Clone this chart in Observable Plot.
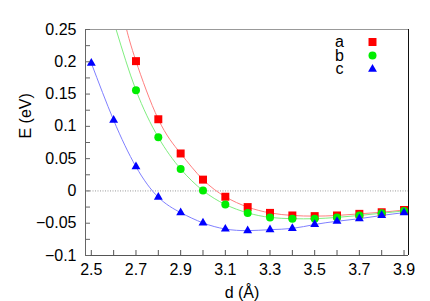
<!DOCTYPE html>
<html>
<head>
<meta charset="utf-8">
<script src="https://cdn.jsdelivr.net/npm/d3@7"></script>
<script src="https://cdn.jsdelivr.net/npm/@observablehq/plot@0.6"></script>
<style>
  html, body { margin: 0; padding: 0; background: #fff; }
  svg { display: block; }
</style>
</head>
<body>
<div id="chart"></div>
<script>
// Data
const series = ["a", "b", "c"];
const dA = [2.7, 2.8, 2.9, 3.0, 3.1, 3.2, 3.3, 3.4, 3.5, 3.6, 3.7, 3.8, 3.9];
const eA = [0.201, 0.111, 0.058, 0.0175, -0.009, -0.025, -0.034, -0.038, -0.039, -0.038, -0.0355, -0.033, -0.0295];
const dB = [2.7, 2.8, 2.9, 3.0, 3.1, 3.2, 3.3, 3.4, 3.5, 3.6, 3.7, 3.8, 3.9];
const eB = [0.156, 0.083, 0.034, 0.0005, -0.021, -0.034, -0.041, -0.043, -0.043, -0.041, -0.038, -0.0345, -0.031];
const dC = [2.5, 2.6, 2.7, 2.8, 2.9, 3.0, 3.1, 3.2, 3.3, 3.4, 3.5, 3.6, 3.7, 3.8, 3.9];
const eC = [0.198, 0.1095, 0.0375, -0.0098, -0.0336, -0.0495, -0.059, -0.0615, -0.060, -0.058, -0.052, -0.047, -0.043, -0.038, -0.0336];
// where the fitted curves of a and b leave the top of the frame
const fitHeadA = {d: 2.658, E: 0.25};
const fitHeadB = {d: 2.611, E: 0.25};

const xTicks = [2.5, 2.6, 2.7, 2.8, 2.9, 3.0, 3.1, 3.2, 3.3, 3.4, 3.5, 3.6, 3.7, 3.8, 3.9];
const xLabels = [2.5, 2.7, 2.9, 3.1, 3.3, 3.5, 3.7, 3.9];
const yTicks = [-0.1, -0.075, -0.05, -0.025, 0, 0.025, 0.05, 0.075, 0.1, 0.125, 0.15, 0.175, 0.2, 0.225, 0.25];
const yLabels = [-0.1, -0.05, 0, 0.05, 0.1, 0.15, 0.2, 0.25];
const xDomain = [2.474, 3.92];
const yDomain = [-0.1, 0.25];

const toRows = (ds, es, s) => ds.map((d, i) => ({d, E: es[i], s}));
const rowsA = toRows(dA, eA, "a");
const rowsB = toRows(dB, eB, "b");
const rowsC = toRows(dC, eC, "c");

const markerColor = {a: "#ff0000", b: "#00ee00", c: "#0000ff"};
const lineColor = {a: "#ff8080", b: "#80ee80", c: "#8080ff"};
const symbol = {a: "square", b: "circle", c: "triangle"};
const radius = {a: 4.5, b: 4, c: 3.3};

const fmt = v => {
  if (Math.abs(v) < 1e-9) return "0";
  const s = String(+Math.abs(v).toFixed(3));
  return (v < 0 ? "\u2212" : "") + s;
};

const W = 430, H = 301;
const mL = 85, mR = 22, mT = 29, mB = 46;
const plotW = W - mL - mR, plotH = H - mT - mB;

const legendMarks = series.flatMap((s, i) => [
  Plot.text([s], {text: d => d, frameAnchor: "top-right", dx: -69, dy: 12.5 + i * 13.6,
    textAnchor: "middle", lineAnchor: "middle", fontSize: 16, fill: "#000"}),
  Plot.dot([s], {frameAnchor: "top-right", dx: -36, dy: 12.5 + i * 13.6,
    symbol: symbol[s], r: radius[s], fill: markerColor[s], stroke: "none"})
]);

const chart = Plot.plot({
  width: W,
  height: H,
  marginLeft: mL,
  marginRight: mR,
  marginTop: mT,
  marginBottom: mB,
  style: {fontFamily: "'Liberation Sans', Arial, sans-serif", fontSize: "16px", background: "#fff", color: "#000"},
  x: {domain: xDomain, label: null},
  y: {domain: yDomain, label: null},
  marks: [
    Plot.ruleY([0], {stroke: "#999", strokeDasharray: "1,1.5", strokeWidth: 1}),
    Plot.line([fitHeadA, ...rowsA], {x: "d", y: "E", stroke: lineColor.a, strokeWidth: 1, curve: "natural", clip: true}),
    Plot.line([fitHeadB, ...rowsB], {x: "d", y: "E", stroke: lineColor.b, strokeWidth: 1, curve: "natural", clip: true}),
    Plot.line(rowsC, {x: "d", y: "E", stroke: lineColor.c, strokeWidth: 1, curve: "natural", clip: true}),
    ...[rowsA, rowsB, rowsC].map(rows => Plot.dot(rows, {x: "d", y: "E",
      symbol: d => symbol[d.s], r: radius[rows[0].s], fill: d => markerColor[d.s], stroke: "none"})),
    // frame
    Plot.ruleY([yDomain[1]], {stroke: "#999"}),
    Plot.ruleX([xDomain[0]], {stroke: "#666"}),
    Plot.ruleY([yDomain[0]], {stroke: "#555"}),
    Plot.ruleX([xDomain[1]], {stroke: "#111"}),
    // inward ticks
    Plot.tickY(yTicks, {y: d => d, stroke: "#666", insetRight: plotW - 5}),
    Plot.tickX(xTicks, {x: d => d, stroke: "#555", insetTop: plotH - 5}),
    Plot.axisY(yLabels, {tickSize: 0, tickPadding: 9, tickFormat: fmt, fontSize: 16, fill: "#000"}),
    Plot.axisX(xLabels, {tickSize: 0, tickPadding: 8, tickFormat: d => d.toFixed(1), fontSize: 16, fill: "#000"}),
    Plot.text(["d (\u00c5)"], {text: d => d, frameAnchor: "bottom", dx: -5, dy: 37, lineAnchor: "middle", fontSize: 16, fill: "#000"}),
    Plot.text(["E (eV)"], {text: d => d, frameAnchor: "left", dx: -60, dy: -4, rotate: -90, lineAnchor: "middle", fontSize: 16, fill: "#000"}),
    ...legendMarks
  ]
});
document.getElementById("chart").appendChild(chart);
</script>
</body>
</html>
